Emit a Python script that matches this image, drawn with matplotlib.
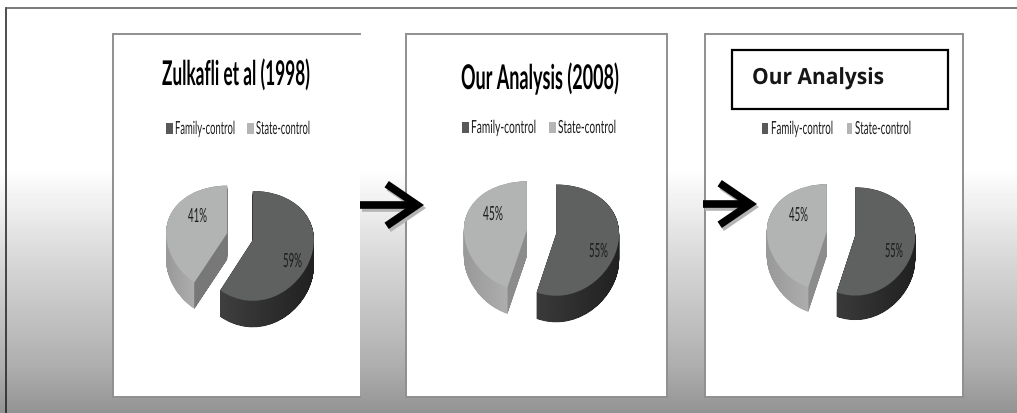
import matplotlib
matplotlib.use("Agg")
import matplotlib.pyplot as plt
import matplotlib.patheffects as pe
import numpy as np
from matplotlib.patches import Rectangle
from matplotlib.path import Path
from matplotlib.transforms import Affine2D, Transform

W, H = 1017, 413

labels = ["Family-control", "State-control"]
shares_a = [59, 41]
shares_b = [55, 45]
shares_c = [55, 45]
titles = ["Zulkafli et al (1998)", "Our Analysis (2008)", "Our Analysis"]

FAMILY = "#5f6060"
STATE = "#b2b3b3"
LEGEND_COLORS = ["#58595a", "#b5b5b5"]
TEXT = "#1c1c1c"


class Tall(pe.AbstractPathEffect):
    # stretches a text upwards, the reference uses a condensed font
    def __init__(self, sy):
        self.sy = sy

    def draw_path(self, renderer, gc, tpath, affine, rgbFace=None):
        renderer.draw_path(gc, tpath, Affine2D().scale(1, self.sy) + affine, rgbFace)


class Tilt(Transform):
    # the far side of the pie is smaller than the near side
    input_dims = 2
    output_dims = 2

    def __init__(self, k):
        super().__init__()
        self.k = k

    def transform_non_affine(self, values):
        out = np.array(values, dtype=float)
        out[:, 1] = out[:, 1] / (1 + self.k * out[:, 1])
        return out


fig = plt.figure(figsize=(W / 100, H / 100), dpi=100)
renderer = fig.canvas.get_renderer()

bg = fig.add_axes([0, 0, 1, 1], zorder=0)
fg = fig.add_axes([0, 0, 1, 1], zorder=5)
fg.patch.set_visible(False)
for a in (bg, fg):
    a.axis("off")

# slide background
rows = np.arange(H)
shade = np.interp(rows, [170, 190, 207, 250, 300, 367, 413],
                  [1.0, 0.96, 0.935, 0.86, 0.785, 0.68, 0.575])
bg.imshow(shade[:, None], cmap="gray", vmin=0, vmax=1, extent=[0, W, H, 0], aspect="auto")
for a in (bg, fg):
    a.set_xlim(0, W)
    a.set_ylim(H, 0)

bg.plot([6, 6], [8, H], color="#1e1e1e", lw=1.1)
bg.plot([6, W], [8, 8], color="#555555", lw=1.1)


def put(x0, x1, base, s, size, weight="normal", family="Lato", color=TEXT):
    # size is the height wanted, the font size is what makes the width fit
    t = fg.text(x0, base, s, fontsize=size, weight=weight, family=family, color=color,
                ha="left", va="baseline")
    ratio = (x1 - x0) / t.get_window_extent(renderer).width
    t.set_fontsize(size * ratio)
    t.set_path_effects([Tall(1 / ratio)])
    return t


def panel(x0, x1, open_right=False):
    bg.add_patch(Rectangle((x0, 34), x1 - x0, 363, facecolor="white", edgecolor="none", zorder=2))
    xs = [x1, x0, x0, x1] if open_right else [x1, x0, x0, x1, x1]
    ys = [34, 34, 397, 397] if open_right else [34, 34, 397, 397, 34]
    bg.plot(xs, ys, color="#8f8f8f", lw=1.4, zorder=3, solid_joinstyle="miter")


def pie3d(shares, cx, cy, rx, ry, depth, explode, cut):
    box = 1.7
    low = box + 1.0
    pax = fig.add_axes([(cx - box * rx) / W, 1 - (cy + low * ry) / H,
                        2 * box * rx / W, (box + low) * ry / H], zorder=2)
    wedges, _ = pax.pie(shares, colors=[FAMILY, STATE], startangle=90, counterclock=False,
                        explode=[explode, explode], frame=False)
    tilt = Tilt(0.11)
    xs = np.linspace(-box, box, 500)
    tip = np.cos(np.radians(90 - 3.6 * shares[0]))
    for i, w in enumerate(wedges):
        top = tilt.transform_path(w.get_path())
        w.set_transform(tilt + pax.transData)
        w.set_zorder(3)
        w.set_edgecolor("none")
        layers = [Path(top.vertices - [0, k / ry], top.codes) for k in np.arange(0, depth, 0.5)]
        side = Path.make_compound_path(*layers)
        if i == 0:
            tone = np.interp(xs, [w.center[0] - 0.55, w.center[0] + 0.2, w.center[0] + 1],
                             [0.25, 0.19, 0.13])
        else:
            edge = w.center[0] + tip
            tone = np.interp(xs, [w.center[0] - 1, edge], [0.60, 0.68])
            tone[xs > edge] = cut
        im = pax.imshow(tone[None, :], cmap="gray", vmin=0, vmax=1, aspect="auto",
                        extent=[-box, box, -low, box], zorder=2)
        im.set_clip_path(side, transform=pax.transData)
    pax.set_aspect("auto")
    pax.set_xlim(-box, box)
    pax.set_ylim(-low, box)
    pax.axis("off")


def arrow(x0, x1, y):
    for dx, dy, c in ((2, 3, "#b4b4b4"), (0, 0, "black")):
        fg.annotate("", xy=(x1 + dx, y + dy), xytext=(x0 + dx, y + dy),
                    arrowprops=dict(arrowstyle="->,head_length=1.1,head_width=0.75", color=c,
                                    lw=5.5, shrinkA=0, shrinkB=0, mutation_scale=20,
                                    capstyle="butt", joinstyle="miter"))


panel(113, 360, open_right=True)
panel(406, 667)
panel(705, 963)

pie3d(shares_a, 240, 236.5, 61, 53.5, 27, 0.22, 0.47)
pie3d(shares_b, 541.5, 232, 63, 54.5, 27, 0.235, 0.55)
pie3d(shares_c, 841, 233.5, 60, 53, 25, 0.24, 0.55)

put(162, 310, 85, titles[0], 24.5, weight="bold", color="black")
put(461, 619, 89, titles[1], 24.5, weight="bold", color="black")
fg.add_patch(Rectangle((732, 50), 216, 59, fill=False, edgecolor="black", lw=1.6))
put(752, 884, 84, titles[2], 16, weight="bold", family="Open Sans", color="#161616")

# legends: square start, square end, text start, text end
legend_rows = [
    (123, 134, [(166, 173, 175, 235), (247, 254, 256, 310)]),
    (122, 133, [(462, 469, 471, 536), (549, 556, 558, 616)]),
    (123, 134, [(762, 768, 771, 833), (847, 852, 855, 911)]),
]
for top, base, items in legend_rows:
    for (s0, s1, t0, t1), name, c in zip(items, labels, LEGEND_COLORS):
        fg.add_patch(Rectangle((s0, top), s1 - s0, base - top, facecolor=c, edgecolor="none"))
        put(t0, t1, base, name, 13)

# value labels
put(188, 207, 222, f"{shares_a[1]}%", 14)
put(283, 302, 267, f"{shares_a[0]}%", 14)
put(483, 503, 220, f"{shares_b[1]}%", 14)
put(589, 608, 257, f"{shares_b[0]}%", 14)
put(789, 808, 221, f"{shares_c[1]}%", 14)
put(885, 903, 257, f"{shares_c[0]}%", 14)

arrow(360, 424, 205)
arrow(703, 757, 204)

fig.savefig("out.png", dpi=100)
